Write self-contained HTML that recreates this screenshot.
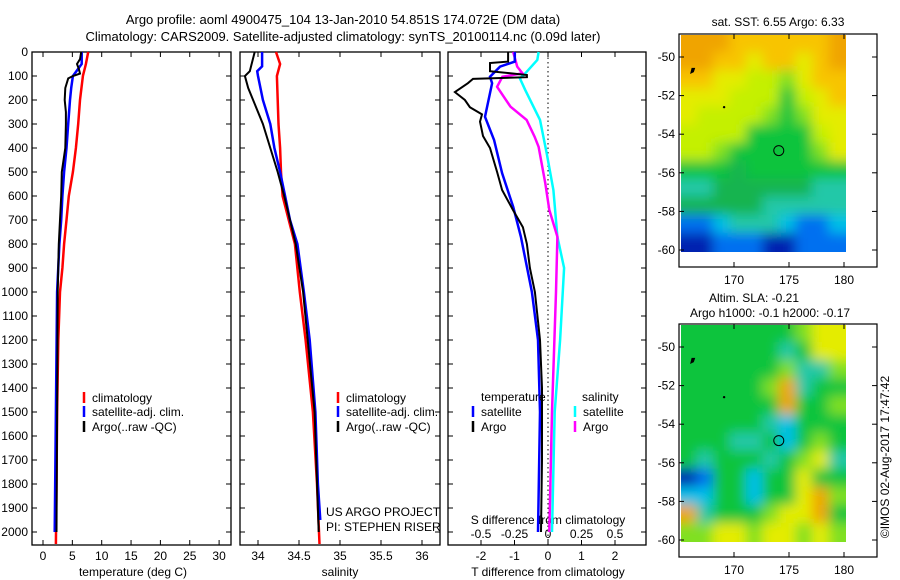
<!DOCTYPE html>
<html><head><meta charset="utf-8"><style>
body{margin:0;background:#fff;}
svg{display:block;font-family:"Liberation Sans",sans-serif;}
</style></head><body>
<svg id="fig" width="900" height="580">
<defs><filter id="bl" filterUnits="userSpaceOnUse" x="600" y="0" width="300" height="580"><feGaussianBlur stdDeviation="6"/></filter>
<clipPath id="c1"><rect x="681" y="35" width="165" height="217"/></clipPath>
<clipPath id="c2"><rect x="681" y="325" width="165" height="217"/></clipPath></defs>
<text x="343" y="24" font-size="13" text-anchor="middle">Argo profile: aoml 4900475_104 13-Jan-2010 54.851S 174.072E (DM data)</text>
<text x="343" y="41" font-size="13" text-anchor="middle">Climatology: CARS2009. Satellite-adjusted climatology: synTS_20100114.nc (0.09d later)</text>
<g id="g"></g>
</svg>
<script>
const depClim=[0,50,100,200,300,400,500,600,700,800,900,1000,1200,1500,1800,2050];
const tClim=[7.7,7.3,6.8,6.3,6.0,5.6,5.1,4.4,4.0,3.6,3.3,2.9,2.6,2.4,2.3,2.2];
const depSat=[0,50,100,150,200,300,400,500,600,700,800,1000,1500,2000];
const tSat=[6.6,6.6,5.1,4.8,4.6,4.3,4.0,3.6,3.3,3.1,2.8,2.4,2.2,2.0];
const depArgo=[0,30,50,70,90,100,110,150,200,250,300,400,500,600,800,1000,1500,2000];
const tArgo=[6.5,6.3,5.8,6.1,6.3,5.1,4.3,3.8,3.7,3.9,3.9,3.8,3.2,3.1,2.7,2.5,2.4,2.3];
const sDepClim=[0,50,100,200,300,400,500,600,800,1000,1200,1500,1800,2050];
const sClim=[34.22,34.27,34.23,34.24,34.25,34.27,34.28,34.30,34.45,34.51,34.58,34.67,34.72,34.75];
const sDepSat=[0,60,80,100,200,300,400,500,600,700,800,1000,1200,1500,1800,1950];
const sSat=[34.05,34.05,33.99,34.0,34.06,34.15,34.2,34.27,34.33,34.39,34.48,34.56,34.63,34.7,34.73,34.76];
const sDepArgo=[0,80,100,150,200,300,400,500,600,700,800,1000,1500,2000];
const sArgo=[33.96,33.9,33.84,33.88,33.94,34.06,34.15,34.24,34.32,34.39,34.46,34.55,34.69,34.74];
const dTdepArgo=[0,40,46,80,96,105,112,130,167,200,230,260,290,350,400,500,575,660,730,800,900,1000,1200,1400,1700,2000];
const dTArgo=[-1.19,-1.19,-1.73,-1.73,-0.63,-0.63,-2.24,-2.39,-2.78,-2.48,-2.33,-1.97,-2.03,-1.94,-1.73,-1.52,-1.37,-1.04,-0.75,-0.63,-0.54,-0.39,-0.24,-0.18,-0.18,-0.21];
const dTdepSat=[0,40,61,103,130,270,367,505,645,770,1000,1200,1500,2000];
const dTSat=[-0.99,-0.99,-1.43,-1.73,-1.67,-1.88,-1.61,-1.37,-1.04,-0.81,-0.48,-0.3,-0.24,-0.3];
const dSdepArgo=[0,61,89,103,145,228,283,353,395,547,658,770,1000,1500,2000];
const dSArgo=[-0.26,-0.23,-0.19,-0.34,-0.38,-0.28,-0.16,-0.1,-0.07,-0.02,0.01,0.07,0.06,0.03,0.01];
const dSdepSat=[0,33,89,110,158,283,422,575,770,900,1200,1500,2000];
const dSSat=[-0.07,-0.08,-0.17,-0.21,-0.17,-0.06,-0.01,0.04,0.07,0.12,0.09,0.05,0.03];
const depthTicks=[0,100,200,300,400,500,600,700,800,900,1000,1100,1200,1300,1400,1500,1600,1700,1800,1900,2000];
const tTicks=[0,5,10,15,20,25,30];
const sTicks=[34,34.5,35,35.5,36];
const dTTicks=[-2,-1,0,1,2];
const dSTicks=[-0.5,-0.25,0,0.25,0.5];
const latTicks=[-50,-52,-54,-56,-58,-60];
const lonTicks=[170,175,180];
const sstGrid=["OOOooooooO","OOooYooYoO","ooYYyyLYoo","YYYyyyGyYo","YyyyyLGLYY","yyyyGGGGyY","yyLGGGGGLY","GGGgGGGGGG","TTggggggTT","gggggTTTTT","BBCTTTCBBC","DDBBBDDBBB"];
const slaGrid=["GGGGGGGLYY","GGGGGGTGYY","GGGGGGLTTL","GGGGGLOTGG","GGGGGGOGGL","GGGGGTCGGG","GGGTTGCGLG","GTGGGTGLYT","DBGGCGGYGG","CCGGCGGYOL","OTGGGLYYOG","LLYYLYYLYL"];

const NS="http://www.w3.org/2000/svg";
const G=document.getElementById('g');
function mk(t,a,p){const e=document.createElementNS(NS,t);for(const k in a)e.setAttribute(k,a[k]);(p||G).appendChild(e);return e;}
const yD=d=>52+d*0.24;
const xT=v=>43+v*5.87, xS=v=>258+(v-34)*82, xdT=v=>548+v*33.5, xdS=v=>548+v*134;
const panels=[[32,231],[240,440],[448,646]];
panels.forEach((p,i)=>{
  const r=mk('rect',{x:p[0],y:52,width:p[1]-p[0],height:493,fill:'none',stroke:'#000','stroke-width':1.3});
  
  
  depthTicks.forEach(d=>{
    mk('line',{x1:p[0],x2:p[0]+5,y1:yD(d),y2:yD(d),stroke:'#000'});
    mk('line',{x1:p[1],x2:p[1]-5,y1:yD(d),y2:yD(d),stroke:'#000'});
  });
});
depthTicks.forEach(d=>{
  const t=mk('text',{x:28,y:yD(d)+4,'font-size':12,'text-anchor':'end'});t.textContent=d;
  
  
});
function xticks(arr,fx,ly,labels,top,bot){arr.forEach((v,i)=>{const x=fx(v);
  mk('line',{x1:x,x2:x,y1:bot,y2:bot-5,stroke:'#000'});mk('line',{x1:x,x2:x,y1:top,y2:top+5,stroke:'#000'});
  const t=mk('text',{x:x,y:ly,'font-size':12,'text-anchor':'middle'});t.textContent=labels?labels[i]:v;
  
  });}
xticks(tTicks,xT,560,null,52,545);
xticks(sTicks,xS,560,null,52,545);
xticks(dTTicks,xdT,560,null,52,545);
dSTicks.forEach(v=>{const t=mk('text',{x:xdS(v),y:538,'font-size':12,'text-anchor':'middle'});t.textContent=v;
  
  });
function lab(x,y,s,name,anchor,size){const t=mk('text',{x:x,y:y,'font-size':size||12,'text-anchor':anchor||'middle'});t.textContent=s;
  
  return t;}
lab(133,576,'temperature (deg C)','x-axis-title-temperature');
lab(340,576,'salinity','x-axis-title-salinity');
lab(548,576,'T difference from climatology','x-axis-title-t-diff');
lab(548,524,'S difference from climatology','axis-title-s-diff');
mk('line',{x1:548,x2:548,y1:53,y2:544,stroke:'#000','stroke-dasharray':'1.5,3'});
function line(ds,vs,fx,col,w,name){const pts=ds.map((d,i)=>fx(vs[i]).toFixed(1)+','+yD(d).toFixed(1)).join(' ');
  const e=mk('polyline',{points:pts,fill:'none',stroke:col,'stroke-width':w});
  
  }
line(depClim,tClim,xT,'#f00',2.5,'temp-climatology-line');
line(depSat,tSat,xT,'#00f',2.5,'temp-satellite-line');
line(depArgo,tArgo,xT,'#000',2,'temp-argo-line');
line(sDepClim,sClim,xS,'#f00',2.5,'sal-climatology-line');
line(sDepSat,sSat,xS,'#00f',2.5,'sal-satellite-line');
line(sDepArgo,sArgo,xS,'#000',2,'sal-argo-line');
line(dSdepSat,dSSat,xdS,'#0ff',2.5,'s-diff-satellite-line');
line(dSdepArgo,dSArgo,xdS,'#f0f',2.5,'s-diff-argo-line');
line(dTdepSat,dTSat,xdT,'#00f',2.5,'t-diff-satellite-line');
line(dTdepArgo,dTArgo,xdT,'#000',2,'t-diff-argo-line');
function leg(x,y,col,s,name){mk('line',{x1:x,x2:x,y1:y-10,y2:y+1,stroke:col,'stroke-width':2.5});lab(x+8,y,s,name,'start');}
[[84,'climatology-legend'],[338,'salinity-legend']].forEach(([x,n])=>{
  leg(x,402,'#f00','climatology',n+'-climatology');leg(x,416,'#00f','satellite-adj. clim.',n+'-satellite');leg(x,431,'#000','Argo(..raw -QC)',n+'-argo');});
lab(481,401,'temperature','legend-temperature-header','start');
leg(473,416,'#00f','satellite','legend-t-satellite');leg(473,431,'#000','Argo','legend-t-argo');
lab(582,401,'salinity','legend-salinity-header','start');
leg(575,416,'#0ff','satellite','legend-s-satellite');leg(575,431,'#f0f','Argo','legend-s-argo');
lab(326,516,'US ARGO PROJECT','project-label','start');
lab(326,531,'PI: STEPHEN RISER','pi-label','start');
const cols={O:'#f0a400',o:'#f8c400',Y:'#e4ec00',y:'#c4f000',L:'#80e020',G:'#10c43c',g:'#18b450',T:'#20c8a8',C:'#00c0e8',B:'#0070f0',D:'#0020b0'};
const yL=(lat,off)=>57+off+(-50-lat)*19.3, xL=lon=>734+(lon-170)*11;
function map(grid,off,clip,name){
  const box=mk('rect',{x:679,y:34+off,width:198,height:233,fill:'#fff',stroke:'#000','stroke-width':1.2});
  
  
  const gc=mk('g',{'clip-path':'url(#'+clip+')'});
  const gb=mk('g',{filter:'url(#bl)'},gc);
  const cw=165/grid[0].length,ch=217/grid.length;
  grid.forEach((row,r)=>{for(let c=0;c<row.length;c++){
    const ex=(c===0?-15:0), ew=(c===0||c===row.length-1?15:0), ey=(r===0?-15:0), eh=(r===0||r===grid.length-1?15:0);
    mk('rect',{x:681+c*cw-1+ex,y:35+off+r*ch-1+ey,width:cw+2+ew,height:ch+2+eh,fill:cols[row[c]]},gb);}});
  
  
  latTicks.forEach(l=>{const y=yL(l,off);mk('line',{x1:679,x2:684,y1:y,y2:y,stroke:'#000'});mk('line',{x1:877,x2:872,y1:y,y2:y,stroke:'#000'});
    lab(675,y+4,l,'lat-tick-label','end');});
  lonTicks.forEach(l=>{const x=xL(l);mk('line',{x1:x,x2:x,y1:34+off,y2:39+off,stroke:'#000'});mk('line',{x1:x,x2:x,y1:267+off,y2:262+off,stroke:'#000'});
    lab(x,284+off,l,'lon-tick-label');});
  mk('circle',{cx:xL(174.07),cy:yL(-54.85,off),r:5,fill:'none',stroke:'#000','stroke-width':1});
  mk('path',{d:`M${xL(166.2)},${yL(-50.6,off)} l2,0 l-1,3 l-2,1 z`,fill:'#000',stroke:'#000','stroke-width':1.5});
  mk('circle',{cx:xL(169.1),cy:yL(-52.6,off),r:1.2,fill:'#000'});
}
map(sstGrid,0,'c1','sst-map');
map(slaGrid,290,'c2','sla-map');
lab(778,26,'sat. SST: 6.55 Argo: 6.33','sst-map-title');
lab(754,302,'Altim. SLA: -0.21','sla-map-title');
lab(770,317,'Argo h1000: -0.1 h2000: -0.17','sla-map-subtitle');
const ts=lab(0,0,'©IMOS 02-Aug-2017 17:47:42','imos-timestamp');
ts.setAttribute('transform','translate(889,457) rotate(-90)');
</script>
</body></html>
